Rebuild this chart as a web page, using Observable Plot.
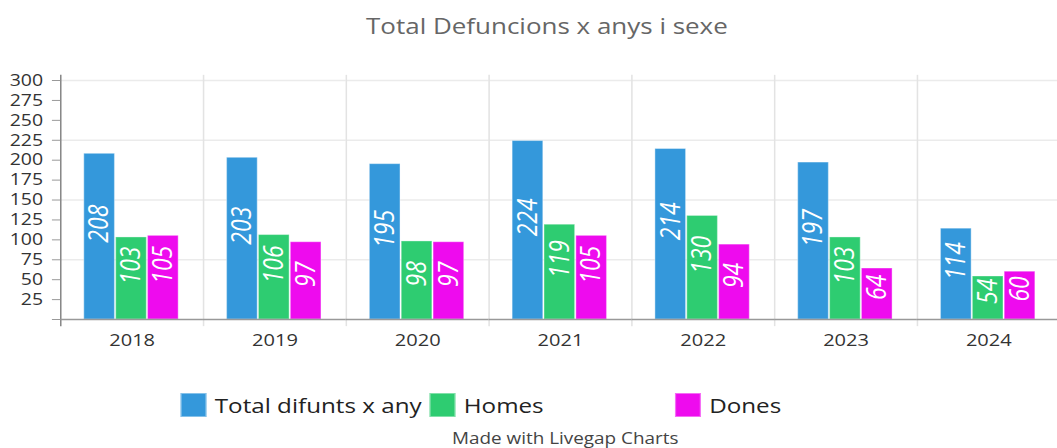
<!DOCTYPE html>
<html><head><meta charset="utf-8">
<script src="https://cdn.jsdelivr.net/npm/d3@7"></script>
<script src="https://cdn.jsdelivr.net/npm/@observablehq/plot@0.6"></script>
<style>
body{margin:0;background:#fff;font-family:"Open Sans",sans-serif;}
#outer{width:1057px;height:448px;overflow:hidden;position:relative;}
#wrap{position:relative;width:898px;height:448px;transform:scaleX(1.18);transform-origin:0 0;}
#title{height:62px;line-height:50px;text-align:center;font-size:22px;color:#666;padding-left:29px;box-sizing:border-box;}
#chart svg{display:block;overflow:visible;}
#legend{position:absolute;left:153px;top:391px;display:flex;align-items:center;font-size:20.5px;color:#222;}
.item{display:flex;align-items:center;}
.sw{width:22px;height:24px;margin-right:7px;box-sizing:border-box;}
#caption{position:absolute;left:0;width:958px;top:427px;text-align:center;font-size:16px;color:#444;}
</style></head><body>
<div id="outer"><div id="wrap">
<div id="title">Total Defuncions x anys i sexe</div>
<div id="chart"></div>
<div id="legend"></div>
<div id="caption">Made with Livegap Charts</div>
</div></div>
<script>
const years = ["2018","2019","2020","2021","2022","2023","2024"];
const seriesNames = ["Total difunts x any","Homes","Dones"];
const colors = ["#3498db","#2ecc71","#ee0bee"];
const total = [208,203,195,224,214,197,114];
const homes = [103,106,98,119,130,103,54];
const dones = [105,97,97,105,94,64,60];
const yTicks = d3.range(0,301,25);
const gridTicks = [75,150,225,300];
const legendWidths = [211,208,110];

const values = [total, homes, dones];
const data = years.flatMap((yr,i)=>seriesNames.map((s,j)=>({year:yr, series:s, value:values[j][i]})));

const chart = Plot.plot({
  width:898, height:300,
  marginTop:13, marginBottom:37, marginLeft:51, marginRight:0,
  style:{fontFamily:"Open Sans, sans-serif", background:"transparent"},
  fx:{domain:years, padding:0, label:null},
  x:{domain:seriesNames, paddingInner:0.03, paddingOuter:0.75, axis:null},
  y:{domain:[-7.5,306.3], axis:null},
  color:{domain:seriesNames, range:colors},
  marks:[
    Plot.gridY(gridTicks,{stroke:"#ebebeb", strokeOpacity:1, strokeWidth:1.5}),
    Plot.frame({anchor:"left", stroke:"#e3e3e3", strokeWidth:1.3}),
    Plot.barY(data,{fx:"year", x:"series", y:"value", fill:"series", stroke:"white", strokeOpacity:0.35, strokeWidth:1}),
    Plot.text(data,{fx:"year", x:"series", y:d=>d.value/2, text:d=>String(d.value), rotate:-90, textAnchor:"start", dy:6, fill:"white", fontSize:23, fontStyle:"italic"}),
    Plot.ruleY([0],{stroke:"#999", strokeWidth:1.5}),
    Plot.axisY(yTicks,{tickSize:7, tickPadding:8, stroke:"#999", fill:"#333", fontSize:16.5, tickFormat:d=>d===0?"":String(d), label:null}),
    Plot.axisFx({anchor:"bottom", tickSize:0, tickPadding:8, fontSize:17, fill:"#333", label:null})
  ]
});
document.getElementById("chart").appendChild(chart);
// darker y axis line on the first facet's left edge
const frames = d3.select(chart).selectAll('g[aria-label="frame"] > *');
if (frames.size()) d3.select(frames.nodes()[0]).attr("stroke","#888");

const lg = d3.select("#legend");
seriesNames.forEach((s,i)=>{
  const it = lg.append("div").attr("class","item").style("width",legendWidths[i]+"px");
  it.append("div").attr("class","sw").style("background",colors[i]).style("border","1px solid rgba(255,255,255,0.4)");
  it.append("span").text(s);
});
</script>
</body></html>
